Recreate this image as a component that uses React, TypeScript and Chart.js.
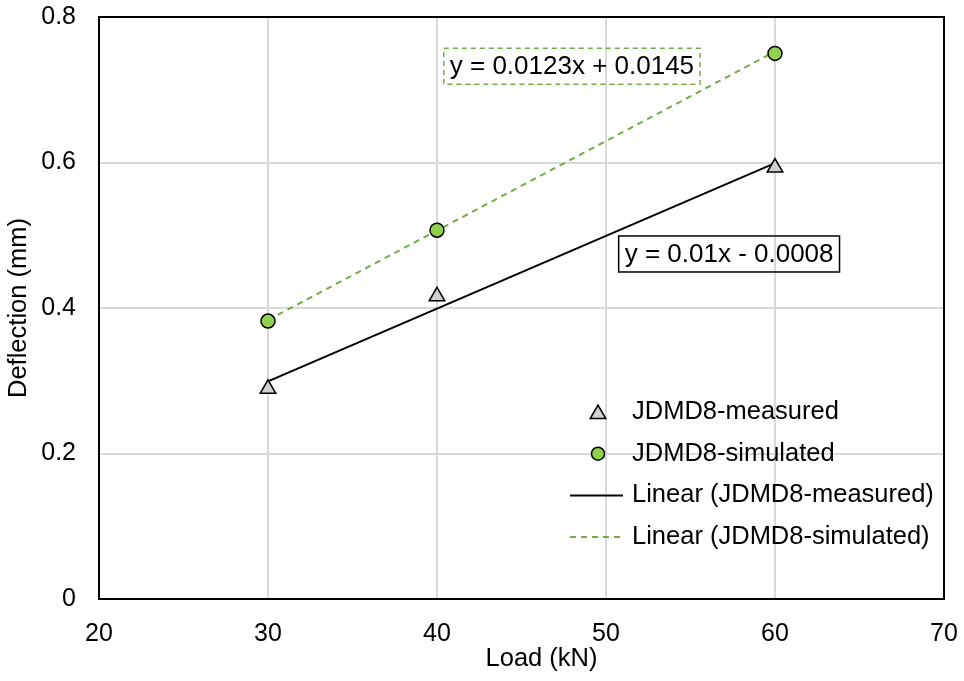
import React, { useEffect, useRef } from 'react';
import { Chart, registerables } from 'chart.js';

Chart.register(...registerables);

// ---------- data ----------
const loads = [30, 40, 60];
const measured = [0.289, 0.416, 0.593];
const simulated = [0.382, 0.507, 0.75];
const xTicks = [20, 30, 40, 50, 60, 70];
const yTicks = [0, 0.2, 0.4, 0.6, 0.8];
// trendline coefficients [slope, intercept] as printed on the chart
const trendMeasured = [0.01, -0.0008];
const trendSimulated = [0.0123, 0.0145];
const legendLabels = [
  'JDMD8-measured',
  'JDMD8-simulated',
  'Linear (JDMD8-measured)',
  'Linear (JDMD8-simulated)',
];
const eqLabels = ['y = 0.01x - 0.0008', 'y = 0.0123x + 0.0145'];
const xTitle = 'Load (kN)';
const yTitle = 'Deflection (mm)';

const FONT = '"Liberation Sans", Arial, Helvetica, sans-serif';
const GREEN_LINE = '#70AD47';
const GREEN_FILL = '#92D050';
const GRAY_FILL = '#D0D0D0';

const trendPoints = (coef: number[]) => {
  const x0 = Math.min(...loads);
  const x1 = Math.max(...loads);
  return [
    { x: x0, y: coef[0] * x0 + coef[1] },
    { x: x1, y: coef[0] * x1 + coef[1] },
  ];
};

function drawTriangle(ctx: CanvasRenderingContext2D, x: number, y: number, r: number) {
  ctx.beginPath();
  let rad = 0;
  ctx.moveTo(x + Math.sin(rad) * r, y - Math.cos(rad) * r);
  rad += (2 * Math.PI) / 3;
  ctx.lineTo(x + Math.sin(rad) * r, y - Math.cos(rad) * r);
  rad += (2 * Math.PI) / 3;
  ctx.lineTo(x + Math.sin(rad) * r, y - Math.cos(rad) * r);
  ctx.closePath();
  ctx.fillStyle = GRAY_FILL;
  ctx.fill();
  ctx.lineWidth = 1.5;
  ctx.strokeStyle = '#000';
  ctx.stroke();
}

const overlay = {
  id: 'overlay',
  beforeDatasetsDraw(chart: any) {
    const { ctx, chartArea } = chart;
    ctx.save();
    ctx.strokeStyle = '#000';
    ctx.lineWidth = 2;
    ctx.strokeRect(chartArea.left, chartArea.top, chartArea.right - chartArea.left, chartArea.bottom - chartArea.top);
    ctx.restore();
  },
  afterDraw(chart: any) {
    const { ctx, chartArea, scales } = chart;
    const xs = scales.x;
    const ys = scales.y;
    ctx.save();

    // x axis title
    ctx.fillStyle = '#000';
    ctx.font = `25.5px ${FONT}`;
    ctx.textAlign = 'center';
    ctx.textBaseline = 'middle';
    ctx.fillText(xTitle, (chartArea.left + chartArea.right) / 2 + 20, chartArea.bottom + 60);

    // equation boxes
    const drawEq = (text: string, xv: number, yv: number, color: string, dashed: boolean) => {
      ctx.font = `26px ${FONT}`;
      const w = ctx.measureText(text).width + 12;
      const h = 36;
      const left = xs.getPixelForValue(xv);
      const top = ys.getPixelForValue(yv);
      ctx.save();
      ctx.strokeStyle = color;
      ctx.lineWidth = 1.5;
      ctx.setLineDash(dashed ? [5, 4] : []);
      ctx.strokeRect(left, top, w, h);
      ctx.restore();
      ctx.fillStyle = '#000';
      ctx.textAlign = 'left';
      ctx.textBaseline = 'middle';
      ctx.fillText(text, left + 6, top + h / 2 + 1);
    };
    drawEq(eqLabels[1], 40.4, 0.757, GREEN_LINE, true);
    drawEq(eqLabels[0], 50.75, 0.499, '#000', false);

    // legend
    const right = chartArea.right;
    const bottom = chartArea.bottom;
    const markerX = right - 346;
    const lineX0 = right - 374;
    const lineX1 = right - 321;
    const textX = right - 312;
    const row0 = bottom - 187;
    const gap = 41.7;
    ctx.font = `25.5px ${FONT}`;
    ctx.textAlign = 'left';
    ctx.textBaseline = 'middle';
    legendLabels.forEach((lab, i) => {
      const y = row0 + i * gap;
      if (i === 0) {
        drawTriangle(ctx, markerX, y + 2, 9);
      } else if (i === 1) {
        ctx.beginPath();
        ctx.arc(markerX, y, 6.5, 0, Math.PI * 2);
        ctx.fillStyle = GREEN_FILL;
        ctx.fill();
        ctx.lineWidth = 1.5;
        ctx.strokeStyle = '#000';
        ctx.stroke();
      } else {
        ctx.save();
        ctx.beginPath();
        ctx.moveTo(lineX0, y);
        ctx.lineTo(lineX1, y);
        ctx.lineWidth = 2;
        ctx.strokeStyle = i === 2 ? '#000' : GREEN_LINE;
        ctx.setLineDash(i === 2 ? [] : [6, 5]);
        ctx.stroke();
        ctx.restore();
      }
      ctx.fillStyle = '#000';
      ctx.fillText(lab, textX, y);
    });

    ctx.restore();
  },
};

export default function App() {
  const ref = useRef<HTMLCanvasElement | null>(null);

  useEffect(() => {
    if (!ref.current) return;
    const chart = new Chart(ref.current, {
      type: 'scatter',
      data: {
        datasets: [
          {
            label: legendLabels[0],
            data: loads.map((x, i) => ({ x, y: measured[i] })),
            pointStyle: 'triangle',
            pointRadius: 9,
            pointBackgroundColor: GRAY_FILL,
            pointBorderColor: '#000',
            pointBorderWidth: 1.5,
            showLine: false,
          },
          {
            label: legendLabels[1],
            data: loads.map((x, i) => ({ x, y: simulated[i] })),
            pointStyle: 'circle',
            pointRadius: 7,
            pointBackgroundColor: GREEN_FILL,
            pointBorderColor: '#000',
            pointBorderWidth: 1.5,
            showLine: false,
          },
          {
            label: legendLabels[2],
            data: trendPoints(trendMeasured),
            showLine: true,
            borderColor: '#000',
            borderWidth: 2,
            pointRadius: 0,
          },
          {
            label: legendLabels[3],
            data: trendPoints(trendSimulated),
            showLine: true,
            borderColor: GREEN_LINE,
            borderWidth: 2,
            borderDash: [6, 5],
            pointRadius: 0,
          },
        ],
      },
      options: {
        responsive: false,
        animation: false,
        layout: { padding: { top: 17, right: 20, left: 0, bottom: 0 } },
        plugins: {
          legend: { display: false },
          tooltip: { enabled: false },
        },
        scales: {
          x: {
            type: 'linear',
            min: xTicks[0],
            max: xTicks[xTicks.length - 1],
            afterBuildTicks: (s: any) => {
              s.ticks = xTicks.map((v) => ({ value: v }));
            },
            afterFit: (s: any) => {
              s.height = 82;
              s.paddingLeft = 0;
              s.paddingRight = 0;
              s.paddingTop = 0;
              s.paddingBottom = 0;
            },
            grid: { color: '#D9D9D9', lineWidth: 2, drawTicks: false },
            border: { display: false },
            ticks: {
              padding: 20,
              color: '#000',
              font: { family: FONT, size: 25 },
              callback: (v: any) => String(v),
            },
          },
          y: {
            type: 'linear',
            min: yTicks[0],
            max: yTicks[yTicks.length - 1],
            afterBuildTicks: (s: any) => {
              s.ticks = yTicks.map((v) => ({ value: v }));
            },
            afterFit: (s: any) => {
              s.width = 99;
              s.paddingLeft = 0;
              s.paddingRight = 0;
              s.paddingTop = 0;
              s.paddingBottom = 0;
            },
            grid: { color: '#D9D9D9', lineWidth: 2, drawTicks: false },
            border: { display: false },
            ticks: {
              padding: 23,
              color: '#000',
              font: { family: FONT, size: 25 },
              callback: (v: any) => (v === 0 ? '0' : Number(v).toFixed(1)),
            },
            title: {
              display: true,
              text: yTitle,
              color: '#000',
              font: { family: FONT, size: 25.5 },
              padding: { top: 4, bottom: 0 },
            },
          },
        },
      },
      plugins: [overlay],
    } as any);
    return () => chart.destroy();
  }, []);

  return (
    <div style={{ position: 'absolute', left: 0, top: 0, width: 964, height: 681, background: '#fff' }}>
      <canvas ref={ref} width={964} height={681} style={{ display: 'block' }} />
    </div>
  );
}
